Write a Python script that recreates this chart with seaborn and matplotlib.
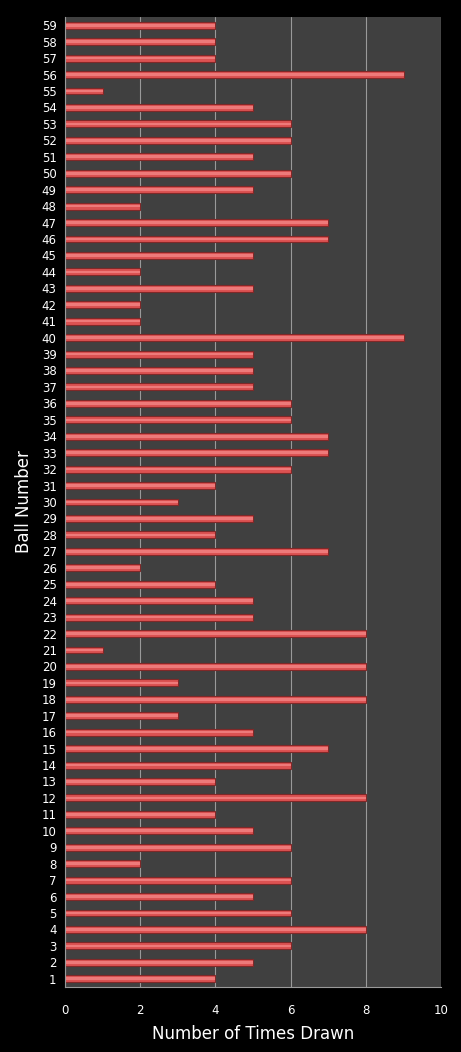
import numpy as np
import pandas as pd
import matplotlib
matplotlib.use("Agg")
import matplotlib.pyplot as plt
import seaborn as sns

# Ball numbers and how often each one was drawn
balls = list(range(1, 60))
times_drawn = [4, 5, 6, 8, 6, 5, 6, 2, 6, 5,
               4, 8, 4, 6, 7, 5, 3, 8, 3, 8,
               1, 8, 5, 5, 4, 2, 7, 4, 5, 3,
               4, 6, 7, 7, 6, 6, 5, 5, 5, 9,
               2, 2, 5, 2, 5, 7, 7, 2, 5, 6,
               5, 6, 6, 5, 1, 9, 4, 4, 4]
x_ticks = [0, 2, 4, 6, 8, 10]

df = pd.DataFrame({"Ball": [str(b) for b in balls], "Times": times_drawn})
order = [str(b) for b in reversed(balls)]

sns.set_style("dark")
plt.rcParams['font.family'] = ['DejaVu Sans']

fig = plt.figure(figsize=(4.61, 10.52), dpi=100, facecolor="black")
ax = fig.add_axes([0.141, 0.0618, 0.816, 0.922])
ax.set_facecolor("#404040")

# main bar body
sns.barplot(data=df, y="Ball", x="Times", order=order, orient="h",
            color="#dc5252", edgecolor="#802828", linewidth=0.8,
            width=0.42, saturation=1, ax=ax)
# highlight stripe for the cylinder look
sns.barplot(data=df, y="Ball", x="Times", order=order, orient="h",
            color="#ee7a7a", linewidth=0, width=0.16,
            saturation=1, ax=ax)

ax.set_xlim(0, 10)
ax.set_xticks(x_ticks)
ax.xaxis.grid(True, color="#9a9a9a", linewidth=0.8)
ax.yaxis.grid(False)
ax.set_axisbelow(True)

for side in ["top", "right"]:
    ax.spines[side].set_visible(False)
for side in ["left", "bottom"]:
    ax.spines[side].set_visible(True)
    ax.spines[side].set_color("#9a9a9a")
    ax.spines[side].set_linewidth(0.8)

ax.tick_params(axis="both", colors="white", labelsize=8.5, length=0)
ax.tick_params(axis="x", pad=12)
ax.tick_params(axis="y", pad=6)
ax.set_xlabel("Number of Times Drawn", color="white", fontsize=12, labelpad=6)
ax.set_ylabel("Ball Number", color="white", fontsize=12, labelpad=6)

fig.savefig("out.png", dpi=100, facecolor="black")
